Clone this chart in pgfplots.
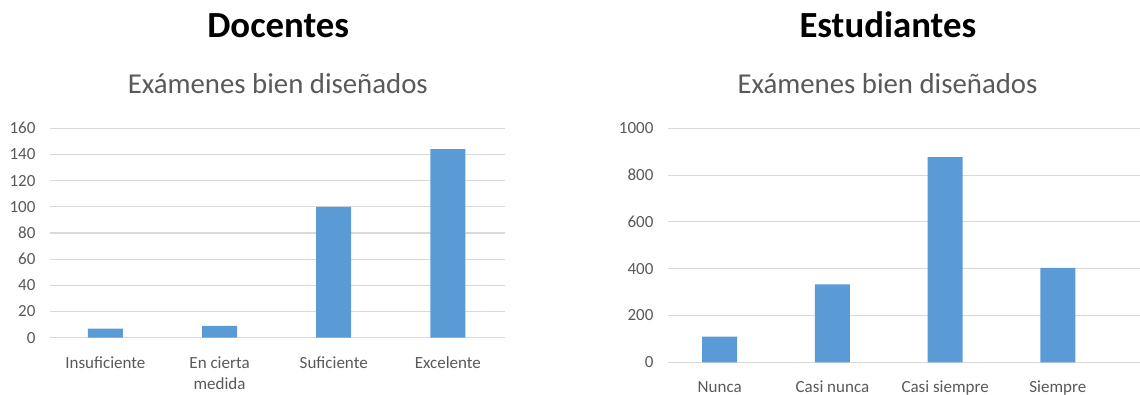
\documentclass[border=0pt]{standalone}
\usepackage{fontspec}
\setmainfont{Carlito}
\usepackage{pgfplots}
\pgfplotsset{compat=1.18}
\definecolor{barblue}{HTML}{5B9BD5}
\definecolor{gridgray}{HTML}{D9D9D9}
\definecolor{tickgray}{HTML}{595959}
\pgfplotsset{
  excel/.style={
    scale only axis,
    anchor=south west,
    axis line style={draw=none},
    tick style={draw=none},
    ymajorgrids,
    grid style={draw=gridgray, line width=1.1pt},
    xtick=data,
    ybar,
    bar width=35pt,
    /pgf/number format/assume math mode=true,
    /pgf/number format/1000 sep={},
    ticklabel style={font=\fontsize{17}{21.7}\selectfont, text=tickgray},
    yticklabel style={xshift=-11pt},
    xticklabel style={yshift=-11pt, align=center},
  }
}
\begin{document}
\begin{tikzpicture}[x=1pt,y=1pt]
\useasboundingbox (0,0) rectangle (1140,394);
% Docentes
\begin{axis}[excel,
  at={(50pt,56.3pt)}, width=455pt, height=209.4pt,
  xmin=-0.485, xmax=3.5, ymin=0, ymax=160,
  ytick={0,20,...,160},
  xticklabels={Insuficiente,{En cierta\\medida},Suficiente,Excelente}]
\addplot[fill=barblue, draw=none] coordinates {(0,7) (1,9) (2,100) (3,144)};
\end{axis}
% Estudiantes
\begin{axis}[excel,
  at={(667.9pt,31.7pt)}, width=472.2pt, height=234pt,
  xmin=-0.46, xmax=3.73, ymin=0, ymax=1000,
  ytick={0,200,...,1000},
  xticklabels={Nunca,Casi nunca,Casi siempre,Siempre}]
\addplot[fill=barblue, draw=none] coordinates {(0,110) (1,333) (2,877) (3,403)};
\end{axis}
\node[anchor=base, font=\fontsize{36.8}{36.8}\selectfont\bfseries] at (278.2,356.7) {Docentes};
\node[anchor=base, font=\fontsize{28.8}{28.8}\selectfont, text=tickgray] at (277.8,300.7) {Exámenes bien diseñados};
\node[anchor=base, font=\fontsize{36.8}{36.8}\selectfont\bfseries] at (887.8,356.7) {Estudiantes};
\node[anchor=base, font=\fontsize{28.8}{28.8}\selectfont, text=tickgray] at (887.5,300.7) {Exámenes bien diseñados};
\end{tikzpicture}
\end{document}
